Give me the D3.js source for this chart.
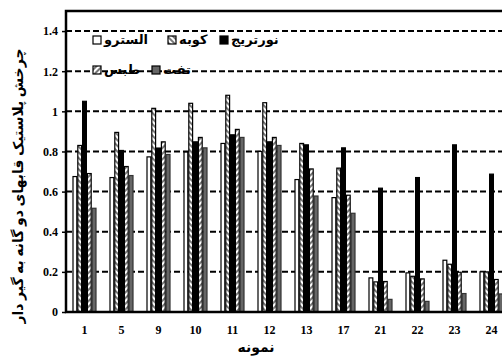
<!DOCTYPE html>
<html>
<head>
<meta charset="utf-8">
<script src="https://cdn.jsdelivr.net/npm/d3@7"></script>
<style>
  body { margin: 0; background: #fff; }
  text { font-family: "Liberation Serif", "DejaVu Sans", serif; font-weight: bold; }
</style>
</head>
<body>
<div id="root"></div>
<script>
const categories = ["1", "5", "9", "10", "11", "12", "13", "17", "21", "22", "23", "24"];
const seriesNames = ["السترو", "کوبه", "نورتریج", "طبس", "تفت"];
const estero   = [0.675, 0.67, 0.773, 0.797, 0.84, 0.80, 0.66, 0.57, 0.17, 0.195, 0.258, 0.20];
const kobe     = [0.83, 0.895, 1.015, 1.04, 1.08, 1.043, 0.84, 0.717, 0.15, 0.178, 0.238, 0.20];
const nortrich = [1.05, 0.805, 0.817, 0.848, 0.883, 0.848, 0.833, 0.818, 0.617, 0.67, 0.833, 0.687];
const tabas    = [0.69, 0.725, 0.848, 0.87, 0.91, 0.87, 0.713, 0.582, 0.152, 0.165, 0.198, 0.162];
const taft     = [0.517, 0.68, 0.785, 0.818, 0.87, 0.83, 0.578, 0.492, 0.063, 0.053, 0.092, 0.09];
const yTicks = [0, 0.2, 0.4, 0.6, 0.8, 1, 1.2, 1.4];

const allSeries = [estero, kobe, nortrich, tabas, taft];
const fills = ["#fff", "url(#hatchA)", "#000", "url(#hatchB)", "#666"];

const outerWidth = 502, outerHeight = 360;
const margin = { top: 11, left: 66 };
const plotW = 444, plotH = 301;

const svg = d3.select("#root").append("svg")
    .attr("width", outerWidth)
    .attr("height", outerHeight);

const defs = svg.append("defs");
function hatch(id, angle) {
    let p = defs.append("pattern")
        .attr("id", id)
        .attr("patternUnits", "userSpaceOnUse")
        .attr("width", 4).attr("height", 4)
        .attr("patternTransform", `rotate(${angle})`);
    p.append("rect").attr("width", 4).attr("height", 4).attr("fill", "#fff");
    p.append("rect").attr("width", 2).attr("height", 4).attr("fill", "#777");
}
hatch("hatchA", -45);
hatch("hatchB", 45);

const chart = svg.append("g").attr("transform", `translate(${margin.left}, ${margin.top})`);

let scaleX = d3.scaleBand().domain(categories).range([0, plotW]);
let scaleInner = d3.scaleBand().domain(d3.range(5)).range([0, 24]);
let scaleY = d3.scaleLinear().domain([0, 1.5]).range([plotH, 0]);

// grid
chart.selectAll(".grid")
    .data(yTicks.filter(d => d > 0))
    .enter().append("line")
    .attr("x1", 0).attr("x2", plotW + 20)
    .attr("y1", d => scaleY(d)).attr("y2", d => scaleY(d))
    .attr("stroke", "#000").attr("stroke-width", 2)
    .attr("stroke-dasharray", "6,3");

// bars
const off = (scaleX.bandwidth() - 24) / 2;
allSeries.forEach((vals, s) => {
    chart.selectAll(".bar" + s)
        .data(vals)
        .enter().append("rect")
        .attr("x", (d, i) => scaleX(categories[i]) + off + scaleInner(s) + 0.5)
        .attr("width", scaleInner.bandwidth() - 1)
        .attr("y", d => scaleY(d))
        .attr("height", d => plotH - scaleY(d))
        .attr("fill", fills[s])
        .attr("stroke", s === 4 ? "#333" : "#000")
        .attr("stroke-width", 1.2);
});

// y axis
let yAxis = d3.axisLeft(scaleY).tickValues(yTicks).tickSize(4)
    .tickFormat(d => d3.format("")(+d.toFixed(1)));
let gy = chart.append("g").call(yAxis);
gy.select(".domain").remove();
gy.selectAll("line").attr("stroke-width", 1.5);
gy.selectAll("text").attr("font-size", 12).attr("x", -8).attr("fill", "#000");

// x labels
chart.selectAll(".xlab")
    .data(categories)
    .enter().append("text")
    .attr("x", d => scaleX(d) + scaleX.bandwidth() / 2)
    .attr("y", plotH + 22)
    .attr("text-anchor", "middle")
    .attr("font-size", 12)
    .text(d => d);

// frame
chart.append("path")
    .attr("d", `M${plotW + 20},0H0V${plotH}H${plotW + 20}`)
    .attr("fill", "none").attr("stroke", "#000").attr("stroke-width", 2.5);

// axis titles
svg.append("text")
    .attr("x", 256).attr("y", 352)
    .attr("text-anchor", "middle")
    .attr("font-size", 14)
    .text("نمونه");

svg.append("text")
    .attr("transform", "translate(23, 186) rotate(-90)")
    .attr("text-anchor", "middle")
    .attr("font-size", 14)
    .text("چرخش پلاستیک قابهای دو گانه به گیر دار");

// legend
const legendPos = [[93, 44], [168, 44], [220, 44], [93, 74], [152, 74]];
legendPos.forEach((p, s) => {
    let g = svg.append("g").attr("transform", `translate(${p[0]}, ${p[1]})`);
    g.append("rect")
        .attr("x", 0).attr("y", -8)
        .attr("width", 8).attr("height", 8)
        .attr("fill", fills[s]).attr("stroke", "#000").attr("stroke-width", 1.2);
    g.append("text")
        .attr("x", 11).attr("y", 0)
        .attr("font-size", 13)
        .text(seriesNames[s]);
});
</script>
</body>
</html>
